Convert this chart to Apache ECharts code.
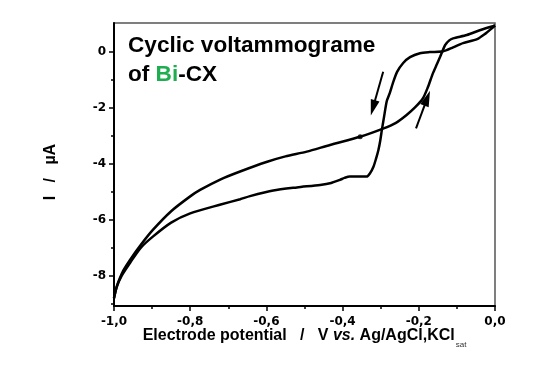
<!DOCTYPE html>
<html><head><meta charset="utf-8">
<script src="https://cdn.jsdelivr.net/npm/echarts@6/dist/echarts.min.js"></script>
<style>html,body{margin:0;padding:0;background:#fff}#c{width:551px;height:371px}</style>
</head><body><div id="c"></div>
<script>
// Cathodic scan (0 V -> -1 V)
const cathodicV = [0.0, -0.01, -0.025, -0.047, -0.084, -0.11, -0.136, -0.171, -0.197, -0.223, -0.241, -0.257, -0.268, -0.276, -0.284, -0.291, -0.297, -0.301, -0.306, -0.312, -0.319, -0.328, -0.337, -0.36, -0.381, -0.395, -0.407, -0.43, -0.459, -0.52, -0.582, -0.643, -0.669, -0.72, -0.8, -0.85, -0.898, -0.93, -0.958, -0.98, -0.993, -1.0];
const cathodicI = [0.95, 0.83, 0.66, 0.46, 0.32, 0.17, 0.03, 0.0, -0.04, -0.18, -0.39, -0.71, -1.11, -1.46, -1.75, -2.3, -2.79, -3.15, -3.5, -3.8, -4.1, -4.33, -4.45, -4.45, -4.45, -4.5, -4.57, -4.68, -4.75, -4.84, -4.95, -5.15, -5.26, -5.45, -5.77, -6.1, -6.6, -7.0, -7.54, -8.0, -8.4, -8.8];
// Anodic scan (-1 V -> 0 V)
const anodicV = [-1.0, -0.993, -0.985, -0.975, -0.958, -0.93, -0.898, -0.85, -0.8, -0.774, -0.72, -0.669, -0.6, -0.55, -0.494, -0.433, -0.354, -0.294, -0.26, -0.232, -0.21, -0.189, -0.176, -0.163, -0.152, -0.144, -0.131, -0.12, -0.11, -0.074, -0.04, -0.005, 0.0];
const anodicI = [-8.8, -8.4, -8.1, -7.8, -7.43, -6.9, -6.36, -5.69, -5.16, -4.93, -4.55, -4.27, -3.93, -3.73, -3.56, -3.32, -3.03, -2.74, -2.53, -2.25, -1.98, -1.65, -1.25, -0.76, -0.42, -0.17, 0.25, 0.42, 0.49, 0.61, 0.78, 0.93, 0.95];
// marker dot on anodic branch
const markerV = [-0.354];
const markerI = [-3.03];
// arrows: [V_tail, I_tail, V_tip, I_tip]
const arrowDown = [-0.2935, -0.70, -0.326, -2.27];
const arrowUp = [-0.2073, -2.73, -0.1706, -1.38];
// ticks
const xTicks = [-1.0, -0.8, -0.6, -0.4, -0.2, 0.0];
const xTickLabels = ['-1,0', '-0,8', '-0,6', '-0,4', '-0,2', '0,0'];
const yTicks = [-8, -6, -4, -2, 0];
const yTickLabels = ['-8', '-6', '-4', '-2', '0'];
const yMinorTicks = [-9, -7, -5, -3, -1];

const pairs = (xs, ys) => xs.map((x, i) => [x, ys[i]]);
const lookup = (vals, labels) => v => {
  for (let i = 0; i < vals.length; i++) if (Math.abs(vals[i] - v) < 1e-6) return labels[i];
  return '';
};

const chart = echarts.init(document.getElementById('c'), null, {renderer: 'canvas'});
const lineStyle = {color: '#000', width: 2.5};
const yMin = -9.08, yMax = 1.04;

chart.setOption({
  animation: false,
  backgroundColor: '#fff',
  title: {
    left: 128, top: 31, padding: 0,
    text: '{a|Cyclic voltammograme}\n{a|of }{g|Bi}{a|-CX}',
    textStyle: {
      rich: {
        a: {fontFamily: 'Liberation Sans', fontWeight: 'bold', fontSize: 22.6, lineHeight: 29, color: '#000'},
        g: {fontFamily: 'Liberation Sans', fontWeight: 'bold', fontSize: 22.6, lineHeight: 29, color: '#1fae4f'}
      }
    }
  },
  grid: {left: 114, top: 23, width: 381, height: 283, show: true, borderColor: '#555', borderWidth: 1.5, backgroundColor: 'transparent'},
  xAxis: {
    type: 'value', min: -1, max: 0, interval: 0.2,
    name: '{a|Electrode potential   /   V }{i|vs.}{a| Ag/AgCl,KCl}{s|sat}',
    nameLocation: 'middle', nameGap: 22, nameMoveOverlap: false,
    nameTextStyle: {
      rich: {
        a: {fontFamily: 'Liberation Sans', fontWeight: 'bold', fontSize: 16, lineHeight: 16, color: '#000'},
        i: {fontFamily: 'Liberation Sans', fontWeight: 'bold', fontStyle: 'italic', fontSize: 16, lineHeight: 16, color: '#000'},
        s: {fontFamily: 'Liberation Sans', fontSize: 8, lineHeight: 8, padding: [18, 0, 0, 1], color: '#333'}
      }
    },
    axisLine: {onZero: false, lineStyle: {color: '#000', width: 2}},
    axisTick: {inside: false, length: 5, lineStyle: {color: '#000', width: 1.5}},
    minorTick: {show: true, splitNumber: 2, length: 3, lineStyle: {color: '#000', width: 1.5}},
    splitLine: {show: false},
    minorSplitLine: {show: false},
    axisLabel: {margin: 10, fontFamily: 'DejaVu Sans', fontWeight: 'bold', fontSize: 12, color: '#000', formatter: lookup(xTicks, xTickLabels)}
  },
  yAxis: [{
    type: 'value', min: yMin, max: yMax, position: 'left',
    axisLine: {onZero: false, lineStyle: {color: '#000', width: 2}},
    axisTick: {inside: false, length: 5, customValues: yTicks, lineStyle: {color: '#000', width: 1.5}},
    splitLine: {show: false},
    axisLabel: {margin: 8, customValues: yTicks, fontFamily: 'DejaVu Sans', fontWeight: 'bold', fontSize: 12, color: '#000', formatter: lookup(yTicks, yTickLabels)}
  }, {
    type: 'value', min: yMin, max: yMax, position: 'left', offset: 0,
    axisLine: {show: false, onZero: false},
    axisTick: {show: true, inside: false, length: 3, customValues: yMinorTicks, lineStyle: {color: '#000', width: 1.5}},
    axisLabel: {show: false},
    splitLine: {show: false}
  }],
  graphic: [{
    type: 'text', x: 51, y: 172, rotation: Math.PI / 2,
    style: {text: 'I   /   µA', font: 'bold 16px "Liberation Sans"', fill: '#000', align: 'center', verticalAlign: 'middle'}
  }],
  series: [{
    name: 'cathodic', type: 'line', data: pairs(cathodicV, cathodicI), showSymbol: false, smooth: 0.25, lineStyle: lineStyle
  }, {
    name: 'anodic', type: 'line', data: pairs(anodicV, anodicI), showSymbol: false, smooth: 0.25, lineStyle: lineStyle
  }, {
    name: 'marker', type: 'scatter', data: pairs(markerV, markerI), symbolSize: 5, itemStyle: {color: '#000'}
  }, {
    name: 'arrows', type: 'custom', coordinateSystem: 'cartesian2d',
    data: [arrowDown, arrowUp], encode: {x: [0, 2], y: [1, 3]},
    renderItem: (params, api) => {
      const p1 = api.coord([api.value(0), api.value(1)]);
      const p2 = api.coord([api.value(2), api.value(3)]);
      const dx = p2[0] - p1[0], dy = p2[1] - p1[1];
      const L = Math.hypot(dx, dy), ux = dx / L, uy = dy / L;
      const hl = 16, hw = 4.5;
      const bx = p2[0] - ux * hl, by = p2[1] - uy * hl;
      return {type: 'group', children: [
        {type: 'line', shape: {x1: p1[0], y1: p1[1], x2: bx + ux * 2, y2: by + uy * 2}, style: {stroke: '#000', lineWidth: 2}},
        {type: 'polygon', shape: {points: [[p2[0], p2[1]], [bx - uy * hw, by + ux * hw], [bx + uy * hw, by - ux * hw]]}, style: {fill: '#000'}}
      ]};
    }
  }]
});
</script>
</body></html>
